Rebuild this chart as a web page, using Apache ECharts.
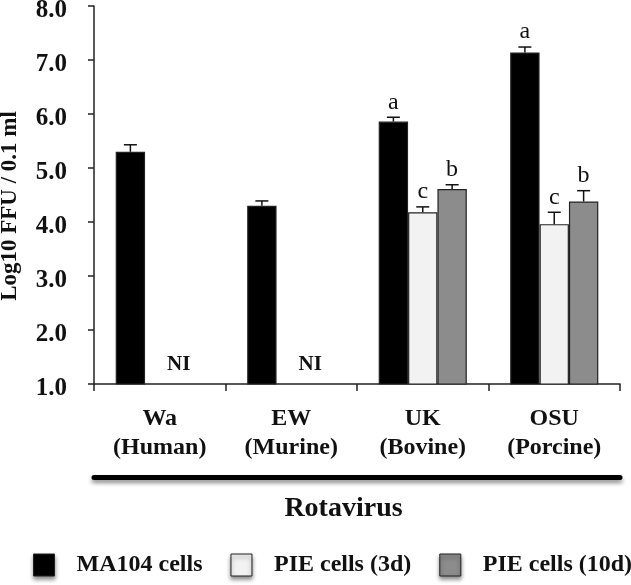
<!DOCTYPE html>
<html>
<head>
<meta charset="utf-8">
<script src="https://cdn.jsdelivr.net/npm/echarts@6/dist/echarts.min.js"></script>
<style>html,body{margin:0;padding:0;background:#fff}#c{width:631px;height:585px}</style>
</head>
<body>
<div id="c"></div>
<script>
const categories = ['Wa\n(Human)', 'EW\n(Murine)', 'UK\n(Bovine)', 'OSU\n(Porcine)'];
const seriesNames = ['MA104 cells', 'PIE cells (3d)', 'PIE cells (10d)'];
const ma104 = [5.30, 4.30, 5.86, 7.14];
const pie3d = [1.0, 1.0, 4.18, 3.96];
const pie10d = [1.0, 1.0, 4.61, 4.38];
const errMa104 = [0.13, 0.09, 0.08, 0.10];
const errPie3d = [null, null, 0.10, 0.22];
const errPie10d = [null, null, 0.08, 0.20];
const lettersMa104 = ['', '', 'a', 'a'];
const lettersPie3d = ['', '', 'c', 'c'];
const lettersPie10d = ['', '', 'b', 'b'];
const notInfected = [true, true, false, false];
const yTicks = [1, 2, 3, 4, 5, 6, 7, 8];

const serif = '"Liberation Serif", "Times New Roman", serif';
const gapPct = 0.33;

const values = [ma104, pie3d, pie10d];
const errs = [errMa104, errPie3d, errPie10d];
const letters = [lettersMa104, lettersPie3d, lettersPie10d];
const errData = [];
values.forEach((arr, s) => {
  arr.forEach((v, i) => {
    if (errs[s][i] != null) errData.push([i, s, v, errs[s][i], letters[s][i]]);
  });
});
const niData = [];
notInfected.forEach((f, i) => { if (f) niData.push([i, pie3d[i]]); });

const colors = ['#000000', '#f2f2f2', '#8c8c8c'];
function barSeries(s) {
  return {
    name: seriesNames[s],
    type: 'bar',
    barGap: '0%',
    barCategoryGap: (gapPct * 100) + '%',
    itemStyle: { color: colors[s], borderColor: '#222', borderWidth: 1.2 },
    data: values[s],
    z: 3
  };
}

const chart = echarts.init(document.getElementById('c'), null, { renderer: 'canvas' });
chart.setOption({
  animation: false,
  backgroundColor: '#fff',
  grid: { left: 94, right: 11, top: 6, bottom: 201, containLabel: false, outerBoundsMode: 'none' },
  legend: {
    data: seriesNames,
    left: 33, top: 553,
    width: 800,
    padding: 0,
    icon: 'rect',
    itemWidth: 21, itemHeight: 22, itemGap: 28,
    itemStyle: { shadowColor: 'rgba(0,0,0,0.45)', shadowBlur: 4, shadowOffsetY: 3, borderColor: '#222', borderWidth: 1 },
    textStyle: { fontFamily: serif, fontWeight: 'bold', fontSize: 24, color: '#111', padding: [0, 0, 0, 17] }
  },
  xAxis: [{
    type: 'category',
    data: categories,
    axisLine: { lineStyle: { color: '#222', width: 1.5 } },
    axisTick: { show: true, alignWithLabel: false, length: 7, lineStyle: { color: '#222', width: 1.5 } },
    axisLabel: { margin: 20, lineHeight: 29, fontFamily: serif, fontWeight: 'bold', fontSize: 24, color: '#111' }
  }, {
    type: 'category',
    data: categories,
    position: 'bottom',
    offset: 93,
    axisLine: { lineStyle: { color: '#000', width: 5, shadowColor: 'rgba(0,0,0,0.45)', shadowBlur: 4, shadowOffsetY: 3 } },
    axisTick: { show: false },
    axisLabel: { show: false },
    name: 'Rotavirus',
    nameLocation: 'middle',
    nameGap: 18,
    nameMoveOverlap: false,
    nameTextStyle: { fontFamily: serif, fontWeight: 'bold', fontSize: 28, color: '#111', padding: [0, 27, 0, 0] }
  }],
  yAxis: {
    type: 'value',
    min: yTicks[0], max: yTicks[yTicks.length - 1], interval: 1,
    name: 'Log10 FFU / 0.1 ml',
    nameLocation: 'middle',
    nameGap: 72,
    nameMoveOverlap: false,
    nameTextStyle: { fontFamily: serif, fontWeight: 'bold', fontSize: 23, color: '#111', padding: [0, 22, 0, 0] },
    axisLine: { show: true, lineStyle: { color: '#222', width: 1.5 } },
    axisTick: { show: true, length: 6, lineStyle: { color: '#222', width: 1.5 } },
    splitLine: { show: false },
    axisLabel: {
      margin: 27, color: '#111',
      formatter: v => '{t|' + v.toFixed(1) + '}',
      rich: { t: { fontFamily: serif, fontWeight: 'bold', fontSize: 25, color: '#111', padding: [9, 0, 0, 0] } }
    }
  },
  series: [
    barSeries(0), barSeries(1), barSeries(2),
    {
      type: 'custom',
      z: 4,
      silent: true,
      data: errData,
      encode: { x: 0, y: 2 },
      renderItem: function (params, api) {
        const cat = api.value(0), s = api.value(1), v = api.value(2), e = api.value(3);
        const letter = errData[params.dataIndex][4];
        const band = api.size([1, 0])[0];
        const bw = band * (1 - gapPct) / 3;
        const base = api.coord([cat, v]);
        const cx = base[0] + (s - 1) * bw;
        const top = base[1];
        const et = api.coord([cat, v + e])[1];
        const st = { stroke: '#111', lineWidth: 1.5 };
        return {
          type: 'group',
          children: [
            { type: 'line', shape: { x1: cx, y1: top, x2: cx, y2: et }, style: st },
            { type: 'line', shape: { x1: cx - 6.5, y1: et, x2: cx + 6.5, y2: et }, style: st },
            { type: 'text', x: cx, y: et - 15, style: {
              text: letter, align: 'center', verticalAlign: 'middle',
              font: '24px ' + serif, fill: '#111' } }
          ]
        };
      }
    },
    {
      type: 'custom',
      z: 4,
      silent: true,
      data: niData,
      encode: { x: 0, y: 1 },
      renderItem: function (params, api) {
        const p = api.coord([api.value(0), api.value(1)]);
        return {
          type: 'text', x: p[0] + 19, y: p[1] - 19,
          style: { text: 'NI', align: 'center', verticalAlign: 'middle',
            font: 'bold 21px ' + serif, fill: '#111' }
        };
      }
    }
  ]
});
</script>
</body>
</html>
